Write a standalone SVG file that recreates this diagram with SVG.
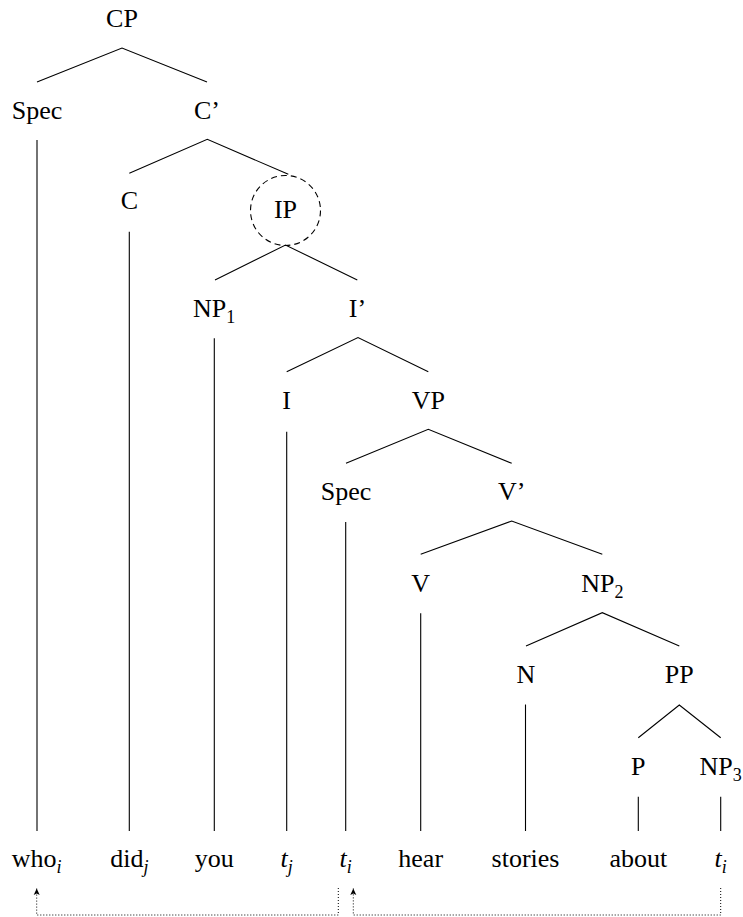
<svg xmlns="http://www.w3.org/2000/svg" width="743" height="917" viewBox="0 0 743 917">
<defs>
<style>
text{font-family:"Liberation Serif","Times New Roman",serif;font-size:26px;fill:#000;text-anchor:middle}
.sub{font-size:18px;font-style:italic}
.subn{font-size:18px}
.it{font-style:italic}
.e{stroke:#000;stroke-width:1.1;fill:none}
.arr{stroke:#000;stroke-width:1;fill:none;stroke-dasharray:1 2}
</style>
<marker id="ah" viewBox="-8 -4 9 8" markerWidth="9" markerHeight="8" refX="0" refY="0" orient="auto" markerUnits="userSpaceOnUse">
<path d="M0,0 L-6.5,-3 L-5,0 L-6.5,3 Z" fill="#000"/>
</marker>
</defs>
<rect width="743" height="917" fill="#fff"/>
<g id="connectors">
<path class="e" d="M37,82 L122,48 L207,82"/>
<path class="e" d="M129.3,173.3 L207.3,139.3 L288.3,174.3"/>
<path class="e" d="M215,280 L285.5,245 L357.3,280"/>
<path class="e" d="M286.7,371.7 L358,337.5 L428.3,371.7"/>
<path class="e" d="M346,463.3 L428.3,429.3 L511.7,463.3"/>
<path class="e" d="M420.7,554.3 L511.7,521 L602.3,554.3"/>
<path class="e" d="M526,646 L602.3,612.7 L679.3,646"/>
<path class="e" d="M638.3,737.7 L679.3,705 L720.7,737.7"/>
<path class="e" d="M37,140 V831"/>
<path class="e" d="M129.3,231.7 V831"/>
<path class="e" d="M214.3,338.3 V831"/>
<path class="e" d="M286.7,431.7 V831"/>
<path class="e" d="M345.7,522 V831"/>
<path class="e" d="M420.7,613.3 V831"/>
<path class="e" d="M525.5,704.5 V831"/>
<path class="e" d="M638.3,796.7 V831"/>
<path class="e" d="M720.7,796.7 V831"/>
<path class="arr" d="M338.3,888 V915 H36.7 V888.5" marker-end="url(#ah)"/>
<path class="arr" d="M720.7,888 V915 H353.3 V888.5" marker-end="url(#ah)"/>
</g>
<g id="n-CP"><text x="122" y="27">CP</text></g>
<g id="n-Spec1"><text x="37" y="119">Spec</text></g>
<g id="n-Cbar"><text x="207" y="119">C’</text></g>
<g id="n-C"><text x="129.3" y="209.3">C</text></g>
<g id="n-IP"><circle cx="285.5" cy="210.5" r="35" fill="none" stroke="#000" stroke-width="1.1" stroke-dasharray="6 4"/><text x="285.5" y="218.3">IP</text></g>
<g id="n-NP1"><text x="214" y="316.7">NP<tspan class="subn" dy="6">1</tspan></text></g>
<g id="n-Ibar"><text x="357.5" y="316.7">I’</text></g>
<g id="n-I"><text x="286.7" y="409.3">I</text></g>
<g id="n-VP"><text x="428.3" y="409.3">VP</text></g>
<g id="n-Spec2"><text x="346" y="500">Spec</text></g>
<g id="n-Vbar"><text x="511.7" y="500">V’</text></g>
<g id="n-V"><text x="420.7" y="591.7">V</text></g>
<g id="n-NP2"><text x="602.3" y="591.7">NP<tspan class="subn" dy="6">2</tspan></text></g>
<g id="n-N"><text x="526" y="682.7">N</text></g>
<g id="n-PP"><text x="679.3" y="683.3">PP</text></g>
<g id="n-P"><text x="638.3" y="775">P</text></g>
<g id="n-NP3"><text x="720.7" y="775">NP<tspan class="subn" dy="6">3</tspan></text></g>
<g id="w-who"><text x="36.7" y="866.5">who<tspan class="sub" dy="6">i</tspan></text></g>
<g id="w-did"><text x="129.3" y="866.5">did<tspan class="sub" dy="6">j</tspan></text></g>
<g id="w-you"><text x="214.3" y="866.5">you</text></g>
<g id="w-tj"><text x="286.7" y="866.5"><tspan class="it">t</tspan><tspan class="sub" dy="6">j</tspan></text></g>
<g id="w-ti1"><text x="345.7" y="866.5"><tspan class="it">t</tspan><tspan class="sub" dy="6">i</tspan></text></g>
<g id="w-hear"><text x="420.7" y="866.5">hear</text></g>
<g id="w-stories"><text x="525.5" y="866.5">stories</text></g>
<g id="w-about"><text x="638.3" y="866.5">about</text></g>
<g id="w-ti2"><text x="720.7" y="866.5"><tspan class="it">t</tspan><tspan class="sub" dy="6">i</tspan></text></g>
</svg>
